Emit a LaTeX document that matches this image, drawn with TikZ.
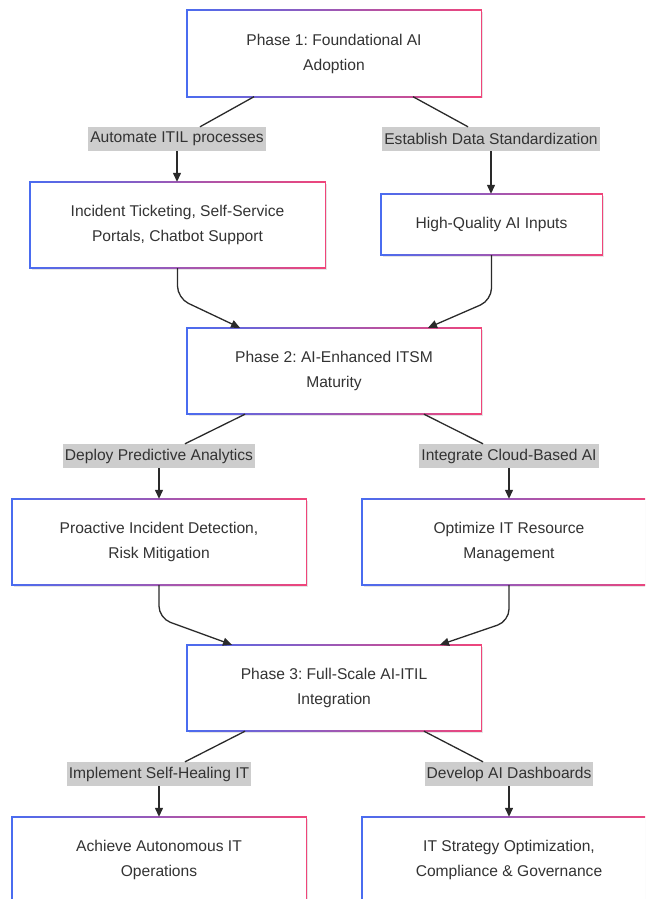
\documentclass[tikz,border=0pt]{standalone}
\usepackage{fontspec}
\setmainfont{Liberation Sans}
\usetikzlibrary{arrows.meta,shadows,calc}
\definecolor{cB}{HTML}{4A6CF0}
\definecolor{cR}{HTML}{F0457A}
\definecolor{txt}{HTML}{333333}
\definecolor{lblgray}{HTML}{CDCDCD}
\definecolor{edgec}{HTML}{2A2A2A}
\newcommand\gradframe[1]{%
 \shade[left color=cB,right color=cR] ([xshift=-0.7pt,yshift=0.7pt]#1.north west) rectangle ([xshift=0.7pt,yshift=-0.7pt]#1.north east);
 \shade[left color=cB,right color=cR] ([xshift=-0.7pt,yshift=0.7pt]#1.south west) rectangle ([xshift=0.7pt,yshift=-0.7pt]#1.south east);
 \fill[cB] ([xshift=-0.7pt,yshift=0.7pt]#1.north west) rectangle ([xshift=0.7pt,yshift=-0.7pt]#1.south west);
 \fill[cR] ([xshift=-0.7pt,yshift=0.7pt]#1.north east) rectangle ([xshift=0.7pt,yshift=-0.7pt]#1.south east);
}
\tikzset{
 gbox/.style={fill=white, text=txt, align=center, inner sep=0pt,
   minimum width=294pt, minimum height=86pt,
   font=\fontsize{15.6}{25}\selectfont\frenchspacing,
   drop shadow={shadow xshift=1.5pt, shadow yshift=-1.5pt, fill=black, opacity=0.10}},
 elabel/.style={fill=lblgray, text=txt, inner xsep=2pt, inner ysep=0pt,
   minimum height=24pt, font=\fontsize{15.6}{19}\selectfont\frenchspacing},
 eline/.style={draw=edgec, line width=1.3pt},
 earrow/.style={eline, -{Triangle[length=9pt,width=8pt]}},
}
\begin{document}
\begin{tikzpicture}[x=1pt,y=-1pt]
\useasboundingbox (0,0) rectangle (645,899);
\clip (0,0) rectangle (645,899);
% nodes
\node[gbox] (p1) at (334,53.5) {Phase 1: Foundational AI\\Adoption};
\node[gbox, minimum width=295pt] (a1) at (177.5,225) {Incident Ticketing, Self-Service\\Portals, Chatbot Support};
\node[gbox, minimum width=221pt, minimum height=61pt] (b1) at (491.5,224.5) {High-Quality AI Inputs};
\node[gbox] (p2) at (334,371) {Phase 2: AI-Enhanced ITSM\\Maturity};
\node[gbox] (a2) at (159,542) {Proactive Incident Detection,\\Risk Mitigation};
\node[gbox] (b2) at (509,542) {Optimize IT Resource\\Management};
\node[gbox] (p3) at (334,688) {Phase 3: Full-Scale AI-ITIL\\Integration};
\node[gbox] (a3) at (159,860) {Achieve Autonomous IT\\Operations};
\node[gbox] (b3) at (509,860) {IT Strategy Optimization,\\Compliance \& Governance};
\foreach \n in {p1,a1,b1,p2,a2,b2,p3,a3,b3}{\gradframe{\n}}
% edge labels
\node[elabel] (l1) at (177,139) {Automate ITIL processes};
\node[elabel] (l2) at (491,139) {Establish Data Standardization};
\node[elabel] (l3) at (159,456) {Deploy Predictive Analytics};
\node[elabel] (l4) at (509,456) {Integrate Cloud-Based AI};
\node[elabel] (l5) at (159,774) {Implement Self-Healing IT};
\node[elabel] (l6) at (509,774) {Develop AI Dashboards};
% edges phase 1
\draw[eline] ([xshift=-80pt]p1.south) -- ([xshift=23pt]l1.north);
\draw[earrow] (l1.south) -- (l1.south |- a1.north);
\draw[eline] ([xshift=79pt]p1.south) -- ([xshift=-23pt]l2.north);
\draw[earrow] (l2.south) -- (l2.south |- b1.north);
\draw[earrow, rounded corners=12pt] (a1.south) -- ++(0,30) -- ([xshift=-94pt]p2.north);
\draw[earrow, rounded corners=12pt] (b1.south) -- ++(0,45) -- ([xshift=94pt]p2.north);
% edges phase 2
\draw[eline] ([xshift=-89pt]p2.south) -- ([xshift=26pt]l3.north);
\draw[earrow] (l3.south) -- (l3.south |- a2.north);
\draw[eline] ([xshift=90pt]p2.south) -- ([xshift=-26pt]l4.north);
\draw[earrow] (l4.south) -- (l4.south |- b2.north);
\draw[earrow, rounded corners=12pt] (a2.south) -- ++(0,33) -- ([xshift=-102pt]p3.north);
\draw[earrow, rounded corners=12pt] (b2.south) -- ++(0,36) -- ([xshift=106pt]p3.north);
% edges phase 3
\draw[eline] ([xshift=-89pt]p3.south) -- ([xshift=26pt]l5.north);
\draw[earrow] (l5.south) -- (l5.south |- a3.north);
\draw[eline] ([xshift=90pt]p3.south) -- ([xshift=-26pt]l6.north);
\draw[earrow] (l6.south) -- (l6.south |- b3.north);
\end{tikzpicture}
\end{document}
